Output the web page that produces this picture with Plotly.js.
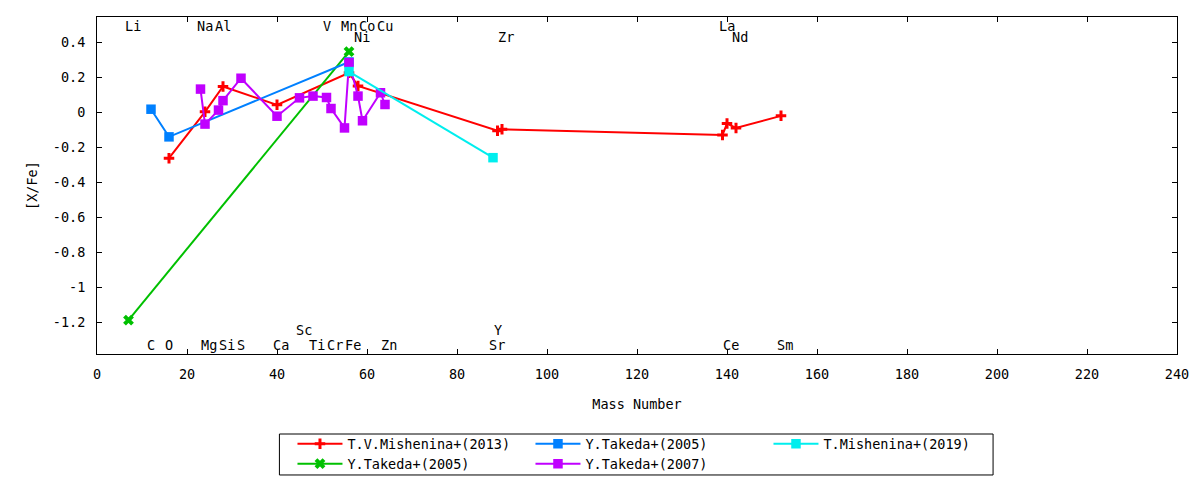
<!DOCTYPE html>
<html><head><meta charset="utf-8">
<script src="https://cdn.plot.ly/plotly-3.0.1.min.js"></script>
<style>html,body{margin:0;padding:0;background:#fff}#chart{width:1200px;height:480px}</style>
</head><body><div id="chart"></div>
<script>
// ---- data (mass number vs [X/Fe]) ----
const mish2013Name = 'T.V.Mishenina+(2013)';
const mish2013Mass = [16, 24, 28, 40, 56, 58, 89, 90, 139, 140, 142, 152];
const mish2013XFe  = [-0.26, 0.005, 0.15, 0.045, 0.228, 0.153, -0.103, -0.095, -0.127, -0.062, -0.087, -0.018];

const tak2005gName = 'Y.Takeda+(2005)';
const tak2005gMass = [7, 56];
const tak2005gXFe  = [-1.185, 0.349];

const tak2005bName = 'Y.Takeda+(2005)';
const tak2005bMass = [12, 16, 56];
const tak2005bXFe  = [0.02, -0.138, 0.29];

const tak2007Name = 'Y.Takeda+(2007)';
const tak2007Mass = [23, 24, 27, 28, 32, 40, 45, 48, 51, 52, 55, 56, 58, 59, 63, 64];
const tak2007XFe  = [0.135, -0.065, 0.015, 0.069, 0.197, -0.02, 0.085, 0.095, 0.087, 0.024, -0.087, 0.286, 0.095, -0.046, 0.114, 0.047];

const mish2019Name = 'T.Mishenina+(2019)';
const mish2019Mass = [56, 88];
const mish2019XFe  = [0.235, -0.257];

// element labels
const topRow1Labels = ['Li', 'Na', 'Al', 'V', 'Mn', 'Co', 'Cu', 'La'];
const topRow1Mass   = [7, 23, 27, 51, 55, 59, 63, 139];
const topRow2Labels = ['Ni', 'Zr', 'Nd'];
const topRow2Mass   = [58, 90, 142];
const botRow1Labels = ['Sc', 'Y'];
const botRow1Mass   = [45, 89];
const botRow2Labels = ['C', 'O', 'Mg', 'Si', 'S', 'Ca', 'Ti', 'Cr', 'Fe', 'Zn', 'Sr', 'Ce', 'Sm'];
const botRow2Mass   = [12, 16, 24, 28, 32, 40, 48, 52, 56, 64, 88, 140, 152];

// ticks
const xTickVals = [0, 20, 40, 60, 80, 100, 120, 140, 160, 180, 200, 220, 240];
const yTickVals = [-1.2, -1, -0.8, -0.6, -0.4, -0.2, 0, 0.2, 0.4];
const yTickText = ['-1.2', '-1', '-0.8', '-0.6', '-0.4', '-0.2', '0', '0.2', '0.4'];

// ---- drawing ----
const FONT = {family: 'DejaVu Sans Mono, monospace', size: 13.5, color: '#000'};

function series(name, x, y, color, symbol, size, lw, legend) {
  const thin = symbol.indexOf('thin') >= 0;
  return {
    type: 'scatter', mode: 'lines+markers', name: name, x: x, y: y,
    legend: legend,
    line: {color: color, width: 2},
    marker: thin ? {symbol: symbol, size: size, color: color, line: {color: color, width: lw}}
                 : {symbol: symbol, size: size, color: color, line: {width: 0}},
    hoverinfo: 'x+y'
  };
}

const traces = [
  series(mish2013Name, mish2013Mass, mish2013XFe, '#ff0000', 'cross-thin', 7.5, 3, 'legend'),
  series(tak2005gName, tak2005gMass, tak2005gXFe, '#00c000', 'x-thin', 8, 4, 'legend2'),
  series(tak2005bName, tak2005bMass, tak2005bXFe, '#0080ff', 'square', 9.5, 0, 'legend'),
  series(tak2007Name, tak2007Mass, tak2007XFe, '#c000ff', 'square', 9.5, 0, 'legend2'),
  series(mish2019Name, mish2019Mass, mish2019XFe, '#00eeee', 'square', 9.5, 0, 'legend')
];

const rowLevels = {top1: 0.495, top2: 0.435, bot1: -1.242, bot2: -1.325};
const annotations = [];
function addRow(labels, masses, yLevel) {
  labels.forEach((t, i) => annotations.push({
    x: masses[i], y: yLevel, xref: 'x', yref: 'y', text: t, showarrow: false,
    xanchor: 'left', yanchor: 'middle', xshift: -6, font: FONT
  }));
}
addRow(topRow1Labels, topRow1Mass, rowLevels.top1);
addRow(topRow2Labels, topRow2Mass, rowLevels.top2);
addRow(botRow1Labels, botRow1Mass, rowLevels.bot1);
addRow(botRow2Labels, botRow2Mass, rowLevels.bot2);

const legendCommon = {
  orientation: 'h', x: 0.181, xanchor: 'left', yanchor: 'middle',
  entrywidth: 178, entrywidthmode: 'pixels', itemwidth: 45,
  bgcolor: 'rgba(0,0,0,0)', borderwidth: 0, font: FONT, traceorder: 'normal'
};

const layout = {
  width: 1200, height: 480,
  margin: {l: 96.5, r: 22.5, t: 17, b: 126, autoexpand: false},
  paper_bgcolor: '#fff', plot_bgcolor: '#fff',
  font: FONT,
  showlegend: true,
  xaxis: {
    range: [0, 240], tickvals: xTickVals, showgrid: false, zeroline: false,
    showline: true, linecolor: '#000', linewidth: 1, mirror: 'ticks',
    ticks: 'inside', ticklen: 5, tickcolor: '#000', tickwidth: 1,
    ticklabelstandoff: 8, tickfont: FONT, automargin: true,
    title: {text: 'Mass Number', font: FONT, standoff: 18}
  },
  yaxis: {
    range: [-1.379, 0.547], tickvals: yTickVals, ticktext: yTickText,
    showgrid: false, zeroline: false,
    showline: true, linecolor: '#000', linewidth: 1, mirror: 'ticks',
    ticks: 'inside', ticklen: 5, tickcolor: '#000', tickwidth: 1,
    ticklabelstandoff: 8, tickfont: FONT,
    title: {text: '[X/Fe]', font: FONT, standoff: 12}
  },
  legend: Object.assign({}, legendCommon, {y: -0.267}),
  legend2: Object.assign({}, legendCommon, {y: -0.326}),
  shapes: [{type: 'rect', xref: 'paper', yref: 'paper', x0: 0.1689, x1: 0.8297, y0: -0.359, y1: -0.2374,
            line: {color: '#000', width: 1}, fillcolor: 'rgba(0,0,0,0)'}],
  annotations: annotations
};

Plotly.newPlot('chart', traces, layout, {displayModeBar: false, staticPlot: true});
</script>
</body></html>
